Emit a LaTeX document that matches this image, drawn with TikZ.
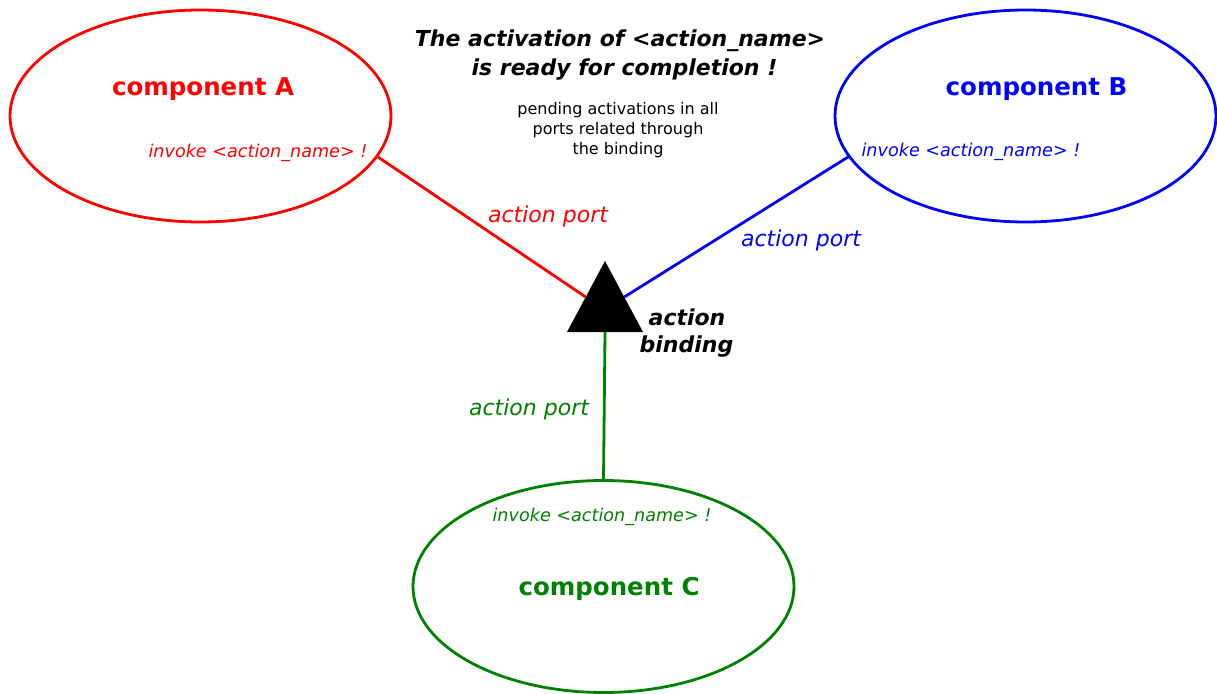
\documentclass[tikz,border=0pt]{standalone}
\usepackage{fontspec}
\setmainfont{DejaVu Sans}
\usetikzlibrary{shapes.geometric}
\definecolor{cRed}{HTML}{FF0000}
\definecolor{cBlue}{HTML}{0000FF}
\definecolor{cGreen}{HTML}{008000}
\tikzset{
  comp/.style={draw, ellipse, line width=2.8pt, inner sep=0pt,
    minimum width=381pt, minimum height=212pt},
  wire/.style={line width=2.8pt},
  compname/.style={anchor=base, inner sep=0pt, font=\fontsize{24.5}{29}\selectfont\bfseries},
  invoke/.style={anchor=base, inner sep=0pt, font=\fontsize{17.6}{21}\selectfont\itshape},
  portlabel/.style={anchor=base, inner sep=0pt, font=\fontsize{22}{26}\selectfont\itshape},
  heading/.style={anchor=base, inner sep=0pt, font=\fontsize{22}{28}\selectfont\bfseries\itshape},
  note/.style={anchor=base, inner sep=0pt, font=\fontsize{16}{20}\selectfont},
}
\begin{document}
\begin{tikzpicture}[x=1pt, y=-1pt]
\useasboundingbox (0,0) rectangle (1217,693);

% components
\node[comp, cRed]   (A) at (200.5,116) {};
\node[comp, cBlue]  (B) at (1025.5,116) {};
\node[comp, cGreen] (C) at (603.5,586.5) {};

% action binding triangle
\coordinate (apex) at (605,261);
\coordinate (bl) at (567,332);
\coordinate (br) at (643,332);
\fill[black] (apex) -- (br) -- (bl) -- cycle;
\coordinate (tL) at (585.7,297);
\coordinate (tR) at (624.3,297);
\coordinate (tB) at (605,332);

% ports
\draw[wire, cRed]   (A.-13.4)  -- (tL);
\draw[wire, cBlue]  (B.193.1) -- (tR);
\draw[wire, cGreen] (C.north) -- (tB);

% component texts
\node[compname, cRed]   (nA) at (203,95)   {component A};
\node[invoke, cRed]     (iA) at (258,157)  {invoke <action\_name> !};
\node[compname, cBlue]  (nB) at (1036.5,95) {component B};
\node[invoke, cBlue]    (iB) at (971,156)  {invoke <action\_name> !};
\node[compname, cGreen] (nC) at (609,595)  {component C};
\node[invoke, cGreen]   (iC) at (602,521)  {invoke <action\_name> !};

% port labels
\node[portlabel, cRed]   (pA) at (548,222) {action port};
\node[portlabel, cBlue]  (pB) at (801,246) {action port};
\node[portlabel, cGreen] (pC) at (529,415) {action port};

% binding label
\node[heading] (b1) at (687,325) {action};
\node[heading] (b2) at (686.5,352) {binding};

% heading and note
\node[heading] (h1) at (620,47)  {The activation of <action\_name>};
\node[heading] (h2) at (624.5,75) {is ready for completion !};
\node[note] (n1) at (618,114) {pending activations in all};
\node[note] (n2) at (618,134) {ports related through};
\node[note] (n3) at (618,154) {the binding};
\end{tikzpicture}
\end{document}
